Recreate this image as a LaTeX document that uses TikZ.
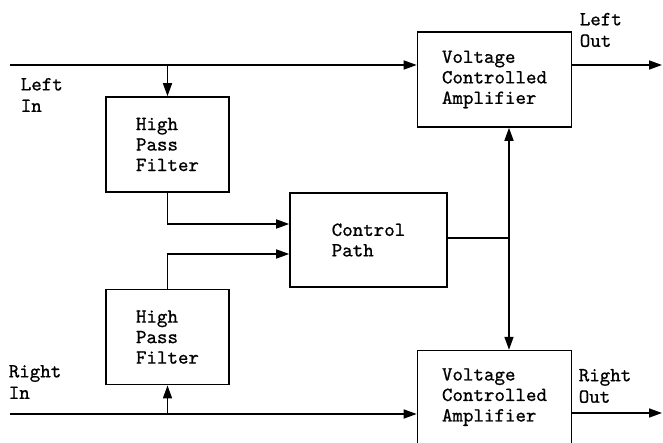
\documentclass[tikz,border=0pt]{standalone}
\usepackage{fontspec}
\newfontfamily\typew{lmmono10-regular.otf}[FakeBold=0.8]
\usetikzlibrary{arrows.meta, positioning}

\begin{document}
\begin{tikzpicture}[x=1pt, y=1pt, line width=1.6pt,
    >={Triangle[length=13pt, width=9pt]},
    block/.style={draw, align=left, font=\typew\fontsize{20}{20.5}\selectfont},
    lbl/.style={align=left, anchor=west, inner sep=0pt, font=\typew\fontsize{20}{21.5}\selectfont}]
    \useasboundingbox (0,0) rectangle (663,443);

    \node[block, minimum width=154pt, minimum height=95pt] (V1) at (494.5,363.5) {Voltage\\Controlled\\Amplifier};
    \node[block, minimum width=154pt, minimum height=93pt] [below=222pt of V1] (V2) {Voltage\\Controlled\\Amplifier};
    \node[block, minimum width=123pt, minimum height=95pt] (H1) at (167.5,298.5) {High\\Pass\\Filter};
    \node[block, minimum width=123pt, minimum height=95pt] [below=96pt of H1] (H2) {High\\Pass\\Filter};
    \node[block, minimum width=157pt, minimum height=94pt] (C) at (368.5,203) {Control\\Path};

    \node[lbl] (LI) at (20,348) {Left\\In};
    \node[lbl] (LO) at (579,413) {Left\\Out};
    \node[lbl] (RI) at (8,61) {Right\\In};
    \node[lbl] (RO) at (578,57) {Right\\Out};

    \coordinate (inL) at (10,378);
    \coordinate (outL) at (662,378);
    \coordinate (inR) at (10,29);
    \coordinate (outR) at (662,30);
    \coordinate (J) at (509,205);

    \draw[->] (inL) -- (inL -| V1.west);
    \draw[->] (inL -| H1.north) -- (H1.north);
    \draw[->] (V1.east |- outL) -- (outL);

    \draw[->] (H1.south) |- ([yshift=16pt]C.west);
    \draw[->] (H2.north) |- ([yshift=-14pt]C.west);
    \draw ([yshift=2pt]C.east) -- (J);
    \draw[<->] (J |- V1.south) -- (J |- V2.north);

    \draw[->] (inR) -- (inR -| V2.west);
    \draw[->] (inR -| H2.south) -- (H2.south);
    \draw[->] (V2.east |- outR) -- (outR);
\end{tikzpicture}
\end{document}
